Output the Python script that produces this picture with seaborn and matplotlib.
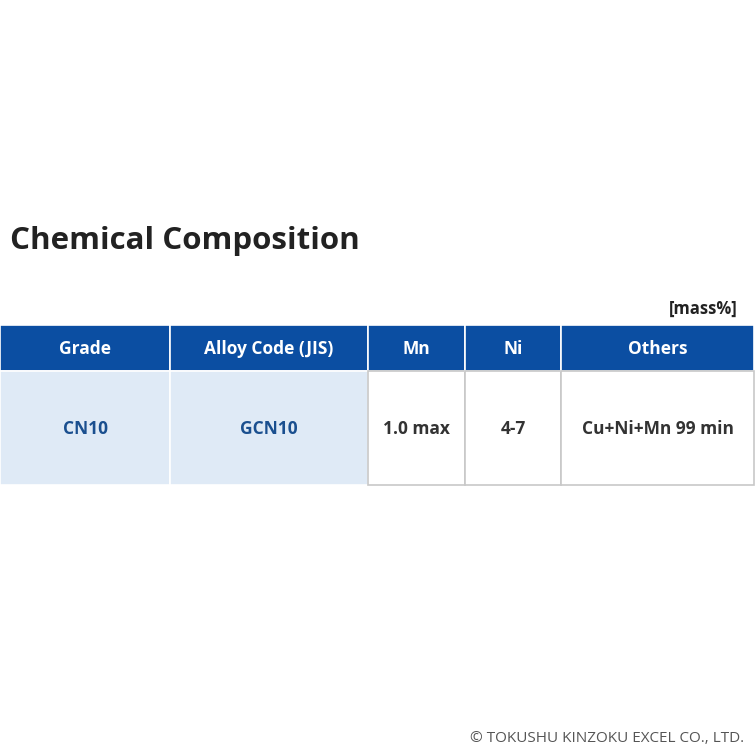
import matplotlib
matplotlib.use("Agg")
import matplotlib.pyplot as plt
import seaborn as sns
from matplotlib.patches import Rectangle

sns.set_theme(style="white")
plt.rcParams['font.family'] = ['Open Sans', 'DejaVu Sans']

headers = ["Grade", "Alloy Code (JIS)", "Mn", "Ni", "Others"]
row_values = ["CN10", "GCN10", "1.0 max", "4-7", "Cu+Ni+Mn 99 min"]
highlight = [True, True, False, False, False]
col_edges = [0, 170, 368, 465, 561, 754]

fig = plt.figure(figsize=(7.56, 7.56), dpi=100)
ax = fig.add_axes([0, 0, 1, 1])
ax.set_xlim(0, 756); ax.set_ylim(756, 0); ax.axis('off')

ax.text(10, 241, "Chemical Composition", fontsize=22.5, fontweight='bold', color='#222222', va='center', ha='left')
ax.text(738, 309, "[mass%]", fontsize=12, fontweight='bold', color='#222222', va='center', ha='right')

hy0, hy1, by1 = 325, 371, 485
for i, (h, v) in enumerate(zip(headers, row_values)):
    x0, x1 = col_edges[i], col_edges[i+1]
    ax.add_patch(Rectangle((x0, hy0), x1-x0, hy1-hy0, facecolor='#0b4ea2', edgecolor='white', lw=1.2))
    ax.text((x0+x1)/2, (hy0+hy1)/2 + 1, h, color='white', fontsize=12.5, fontweight='bold', ha='center', va='center')
    fc = '#dfeaf6' if highlight[i] else 'white'
    tc = '#1a4f8f' if highlight[i] else '#333333'
    ax.add_patch(Rectangle((x0, hy1), x1-x0, by1-hy1, facecolor=fc, edgecolor='#c8c8c8' if not highlight[i] else 'white', lw=1.2))
    ax.text((x0+x1)/2, (hy1+by1)/2 + 1, v, color=tc, fontsize=12.5, fontweight='bold', ha='center', va='center')

ax.text(744, 739, "© TOKUSHU KINZOKU EXCEL CO., LTD.", fontsize=11, color='#555555', ha='right', va='center')
fig.savefig("out.png", dpi=100)
